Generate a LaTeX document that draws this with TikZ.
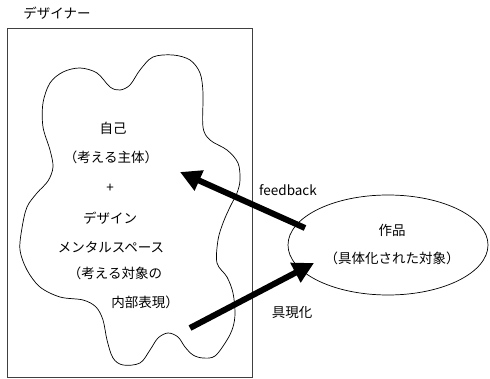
\documentclass[tikz,border=0pt]{standalone}
\usepackage{fontspec}
\setmainfont{Noto Sans CJK JP}
\usetikzlibrary{arrows.meta,shapes.geometric}
\begin{document}
\begin{tikzpicture}[x=1pt,y=-1pt,
  txt/.style={inner sep=0pt,font=\fontsize{13.5}{16}\selectfont},
  bigarrow/.style={line width=6pt,-{Triangle[length=21pt,width=21pt]}},
  thinline/.style={line width=0.7pt}]
\useasboundingbox (0,0) rectangle (490,379);
% designer frame
\node[draw=black!75,thinline,minimum width=245pt,minimum height=349pt,inner sep=0pt,anchor=north west] (frame) at (7,28) {};
\node[txt] (title) at (57,13) {デザイナー};
% blob
\draw[thinline] plot[smooth cycle,tension=0.55] coordinates {
 (43,103) (50,83) (63,72) (80,68) (97,73) (110,87) (120,90) (130,85) (140,70)
 (153,57) (173,55) (190,60) (200,73) (203,93) (203,127) (210,140) (227,150)
 (238,163) (240,180) (237,193) (230,207) (223,223) (218,240) (217,263)
 (227,277) (233,293) (235,313) (233,327) (227,340) (215,356) (203,358)
 (193,355) (185,347) (178,337) (168,333) (158,338) (150,350) (140,363)
 (123,365) (113,358) (107,340) (103,320) (96,307) (83,300) (60,297)
 (40,287) (27,270) (20,250) (22,228) (27,207) (37,193) (48,181) (53,167)
 (50,150) (43,127)};
% texts inside
\node[txt] (self) at (113,128) {自己};
\node[txt] (selfsub) at (111,157) {（考える主体）};
\node[txt] (plus) at (110,188) {+};
\node[txt] (design) at (110,218) {デザイン};
\node[txt] (mental) at (111,247) {メンタルスペース};
\node[txt] (obj1) at (115,273) {（考える対象の};
\node[txt] (obj2) at (145,302) {内部表現）};
% work ellipse
\node[draw,thinline,ellipse,minimum width=200pt,minimum height=100pt,inner sep=0pt] (work) at (388,245) {};
\node[txt] (worktitle) at (392,230) {作品};
\node[txt] (worksub) at (392,258) {（具体化された対象）};
% arrows
\coordinate (fbstart) at (305,228);
\coordinate (fbend) at (180,172);
\coordinate (rzstart) at (190,328);
\coordinate (rzend) at (314,263);
\draw[bigarrow] (fbstart) -- (fbend);
\draw[bigarrow] (rzstart) -- (rzend);
\node[txt] (fblabel) at (288,190) {feedback};
\node[txt] (rzlabel) at (292,313) {具現化};
\end{tikzpicture}
\end{document}
